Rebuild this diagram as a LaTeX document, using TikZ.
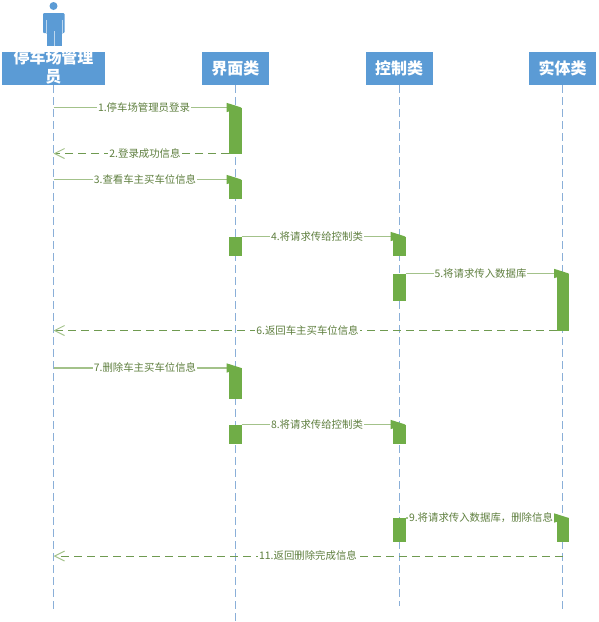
\documentclass[tikz,border=0pt]{standalone}
\usepackage{fontspec}
\setmainfont{Noto Sans CJK SC}
\usetikzlibrary{arrows.meta}
\definecolor{hdr}{HTML}{5B9BD5}
\definecolor{act}{HTML}{70AD47}
\definecolor{life}{HTML}{8AAFD8}
\definecolor{msgline}{HTML}{A3C28A}
\definecolor{dashline}{HTML}{6F9A50}
\definecolor{msgtext}{HTML}{5F7F3F}
\tikzset{
  header/.style={draw=none,fill=hdr,minimum width=67pt,minimum height=33pt,inner sep=0pt},
  headtext/.style={text=white,font=\fontsize{16}{19}\selectfont\bfseries,align=center,inner sep=0pt},
  lifeline/.style={draw=life,line width=1pt,dash pattern=on 8pt off 4pt},
  activation/.style={draw=none,fill=act,minimum width=12.5pt,inner sep=0pt},
  call/.style={draw=msgline,line width=1.5pt,-{Triangle[length=15pt,width=9pt,fill=act,color=act]}},
  reply/.style={draw=dashline,line width=1pt,dash pattern=on 8pt off 5pt,-{Straight Barb[length=10pt,width=10pt,color=msgline]}},
  msglabel/.style={fill=white,text=msgtext,font=\fontsize{10.4}{12}\selectfont,inner xsep=1pt,inner ysep=0.5pt},
}
\newcommand{\actbox}[4]{\node[activation,minimum height=#4pt-#3pt,anchor=north] (#1) at (#2,#3) {};}
\begin{document}
\begin{tikzpicture}[x=1pt,y=-1pt]
\useasboundingbox (0,0) rectangle (598,622);
% actor figure
\fill[hdr] (53.5,6) circle (4pt);
\fill[hdr,rounded corners=1pt] (43,13) rectangle (64.5,33);
\fill[hdr] (46.5,20) rectangle (61.5,46);
\draw[white!60!hdr,line width=0.4pt] (46.2,20) -- (46.2,33.5) (61.8,20) -- (61.8,33.5) (53.7,31) -- (53.7,46);
% headers
\node[header,minimum width=103pt] (h1) at (53.5,68.5) {};
\node[header] (h2) at (235.25,68.5) {};
\node[header] (h3) at (399.2,68.5) {};
\node[header] (h4) at (562.5,68.5) {};
\begin{scope}
\clip (2,52) rectangle (105,85);
\node[headtext,text width=103pt] (t1) at (53.5,67) {停车场管理\\员};
\end{scope}
\node[headtext] (t2) at (h2) {界面类};
\node[headtext] (t3) at (h3) {控制类};
\node[headtext] (t4) at (h4) {实体类};
% lifeline ends
\coordinate (e1) at (h1.south |- 0,610);
\coordinate (e2) at (h2.south |- 0,621);
\coordinate (e3) at (h3.south |- 0,606);
\coordinate (e4) at (h4.south |- 0,610);
\draw[lifeline] (h1.south) -- (e1);
\draw[lifeline] (h2.south) -- (e2);
\draw[lifeline] (h3.south) -- (e3);
\draw[lifeline] (h4.south) -- (e4);
\path
  coordinate (m1) at (53.5,107.5)
  coordinate (m2) at (53.5,153.5)
  coordinate (m3) at (53.5,179.5)
  coordinate (m6) at (53.5,330.5)
  coordinate (m7) at (53.5,368)
  coordinate (m11) at (53.5,556)
  coordinate (r11) at (562.5,556)
  coordinate (a1ne) at (241.5,107.5)
  coordinate (a1sw) at (229,153.5)
  coordinate (a2ne) at (241.5,179.5)
  coordinate (a3ne) at (241.5,236.5)
  coordinate (b1ne) at (405.5,236.5)
  coordinate (b2ne) at (405.5,273.5)
  coordinate (c1ne) at (569,273.5)
  coordinate (c1sw) at (556.5,330.5)
  coordinate (a4ne) at (241.5,368)
  coordinate (a5ne) at (241.5,424.5)
  coordinate (b3ne) at (405.5,424.5)
  coordinate (b4ne) at (405.5,518)
  coordinate (c2ne) at (569,518);
% messages
\draw[call] (m1) -- (a1ne);
\draw[reply] (a1sw) -- (m2);
\draw[call] (m3) -- (a2ne);
\draw[call] (a3ne) -- (b1ne);
\draw[call] (b2ne) -- (c1ne);
\draw[reply] (c1sw) -- (m6);
\draw[call] (m7) -- (a4ne);
\draw[call] (a5ne) -- (b3ne);
\draw[call] (b4ne) -- (c2ne);
\draw[reply] (r11) -- (m11);
% labels
\node[msglabel] (l1) at (144,107.5) {1.停车场管理员登录};
\node[msglabel] (l2) at (145,153.5) {2.登录成功信息};
\node[msglabel] (l3) at (145,179.5) {3.查看车主买车位信息};
\node[msglabel] (l4) at (317,236.5) {4.将请求传给控制类};
\node[msglabel] (l5) at (480.5,273.5) {5.将请求传入数据库};
\node[msglabel] (l6) at (307.5,330.5) {6.返回车主买车位信息};
\node[msglabel] (l7) at (145,368) {7.删除车主买车位信息};
\node[msglabel] (l8) at (317,424.5) {8.将请求传给控制类};
\node[msglabel] (l9) at (481,518) {9.将请求传入数据库，删除信息};
\node[msglabel] (l11) at (308,556) {11.返回删除完成信息};
% activations
\actbox{a1}{235.25}{107.5}{153.5}
\actbox{a2}{235.25}{179.5}{199}
\actbox{a3}{235.25}{236.5}{255.5}
\actbox{a4}{235.25}{368}{398.5}
\actbox{a5}{235.25}{424.5}{444}
\actbox{b1}{399.25}{236.5}{255.5}
\actbox{b2}{399.25}{273.5}{300.5}
\actbox{b3}{399.25}{424.5}{443.5}
\actbox{b4}{399.25}{518}{541.5}
\actbox{c1}{562.75}{273.5}{330.5}
\actbox{c2}{562.75}{518}{541.5}
\end{tikzpicture}
\end{document}
